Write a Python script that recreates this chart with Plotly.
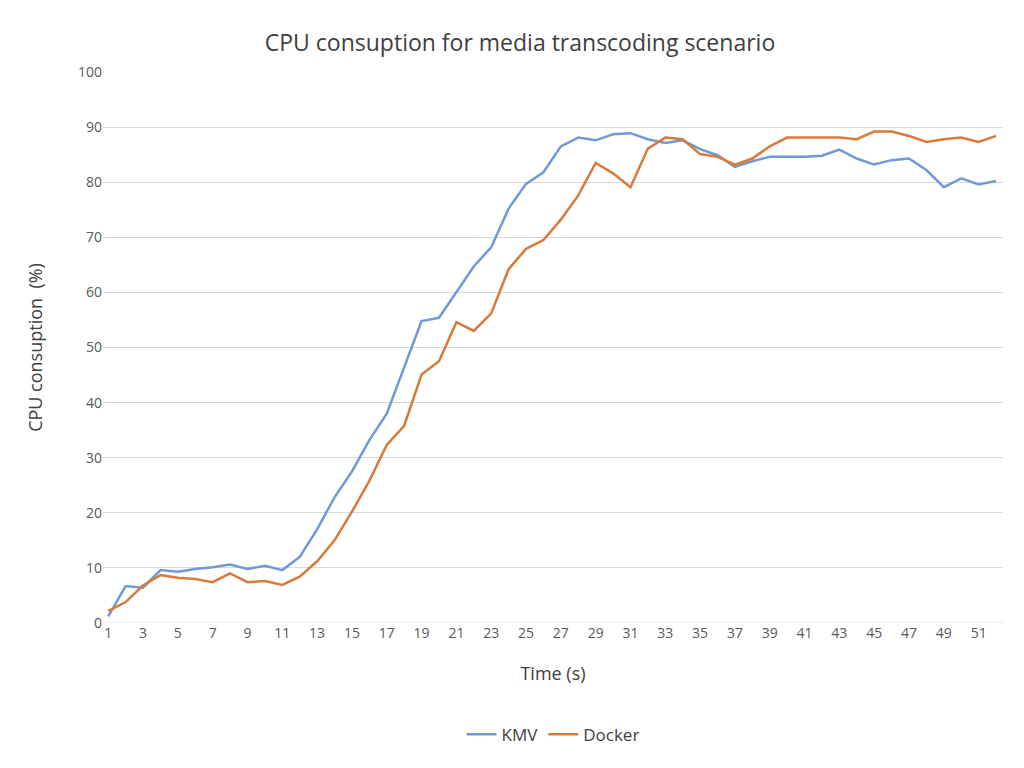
import plotly.graph_objects as go

time_s = list(range(1, 53))
kmv = [1.2, 6.7, 6.4, 9.6, 9.3, 9.8, 10.1, 10.6, 9.8, 10.4, 9.6, 12, 17, 22.8, 27.5, 33.2, 38, 46.5, 54.8, 55.4,
       60, 64.7, 68.2, 75.2, 79.7, 81.8, 86.5, 88.1, 87.6, 88.7, 88.9, 87.8, 87.1, 87.6, 86, 84.9, 82.8, 83.8,
       84.6, 84.6, 84.6, 84.8, 85.9, 84.3, 83.2, 84, 84.3, 82.2, 79.1, 80.7, 79.6, 80.2]
docker = [2.2, 3.8, 6.8, 8.7, 8.2, 8, 7.4, 9.0, 7.4, 7.6, 6.9, 8.4, 11.2, 15, 20.2, 25.8, 32.3, 35.8, 45.1, 47.5,
          54.6, 53, 56.2, 64.2, 67.9, 69.5, 73.2, 77.6, 83.5, 81.6, 79.1, 86.1, 88.1, 87.8, 85.1, 84.6, 83.2, 84.3,
          86.5, 88.1, 88.1, 88.1, 88.1, 87.8, 89.2, 89.2, 88.4, 87.3, 87.8, 88.1, 87.3, 88.4]
x_ticks = list(range(1, 53, 2))
y_ticks = list(range(0, 101, 10))

fig = go.Figure()
fig.add_trace(go.Scatter(x=time_s, y=kmv, mode="lines", name="KMV", line=dict(color="#6f9ad6", width=2.5)))
fig.add_trace(go.Scatter(x=time_s, y=docker, mode="lines", name="Docker", line=dict(color="#d9793a", width=2.5)))

font = "Open Sans, Liberation Sans, sans-serif"
fig.update_layout(
    width=1024, height=768, plot_bgcolor="white", paper_bgcolor="white",
    font=dict(family=font, color="#595959"),
    title=dict(text="CPU consuption for media transcoding scenario", x=0.5, xanchor="center", y=0.965,
               font=dict(size=23, color="#404040")),
    margin=dict(l=95, r=29, t=64, b=153),
    legend=dict(orientation="h", x=0.5, xanchor="center", y=-0.17, yanchor="top", font=dict(size=17, color="#404040")),
    xaxis=dict(range=[0.7, 52.4], tickvals=x_ticks, showgrid=False, zeroline=False, showline=False,
               tickfont=dict(size=14), title=dict(text="Time (s)", standoff=26, font=dict(size=18, color="#404040"))),
    yaxis=dict(range=[0, 100], tickvals=y_ticks, showgrid=True, gridcolor="#d9d9d9", zeroline=False,
               tickfont=dict(size=14), title=dict(text="CPU consuption  (%)", standoff=30, font=dict(size=18, color="#404040"))),
)
fig.add_hline(y=0, line=dict(color="#d9d9d9", width=1))
fig.write_html("out.html")
